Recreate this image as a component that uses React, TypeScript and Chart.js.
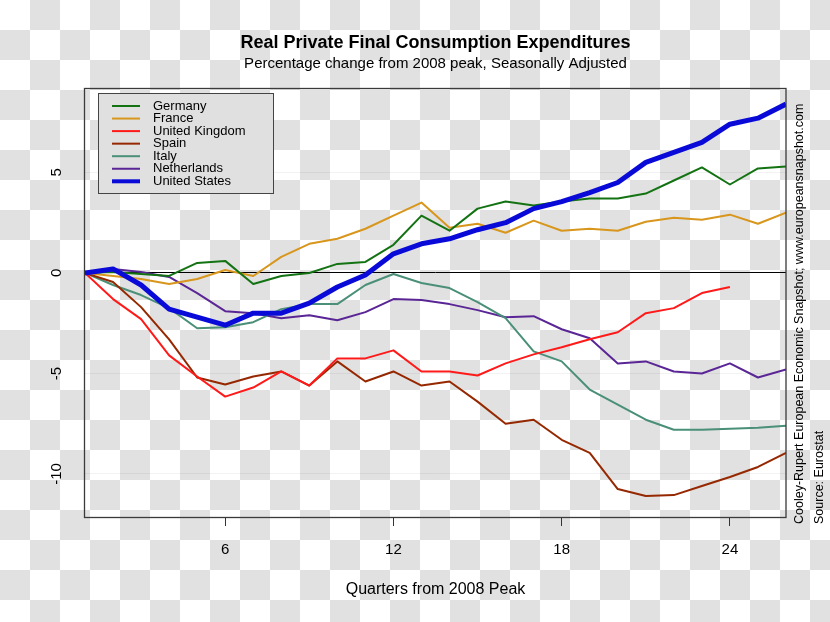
import React, { useEffect, useRef } from "react";
import { Chart, registerables } from "chart.js";

Chart.register(...registerables);

const quarters = [1, 2, 3, 4, 5, 6, 7, 8, 9, 10, 11, 12, 13, 14, 15, 16, 17, 18, 19, 20, 21, 22, 23, 24, 25, 26];
const xTicks = [6, 12, 18, 24];
const yTicks = [-10, -5, 0, 5];
const yTickLabels = ["-10", "-5", "0", "5"];

const germany = [0, 0.05, -0.05, -0.15, 0.5, 0.6, -0.55, -0.15, 0.0, 0.45, 0.55, 1.4, 2.85, 2.1, 3.2, 3.55, 3.35, 3.55, 3.7, 3.7, 3.95, 4.6, 5.25, 4.4, 5.2, 5.3];
const france = [0, -0.15, -0.3, -0.55, -0.3, 0.15, -0.15, 0.8, 1.45, 1.7, 2.2, 2.85, 3.5, 2.25, 2.45, 2.0, 2.6, 2.1, 2.2, 2.1, 2.55, 2.75, 2.65, 2.9, 2.45, 3.0];
const uk = [0, -1.3, -2.3, -4.1, -5.15, -6.15, -5.7, -4.9, -5.6, -4.25, -4.25, -3.85, -4.9, -4.9, -5.1, -4.5, -4.05, -3.7, -3.3, -2.95, -2.0, -1.75, -1.0, -0.7, null, null];
const spain = [0, -0.45, -1.7, -3.3, -5.2, -5.55, -5.15, -4.9, -5.6, -4.4, -5.4, -4.9, -5.6, -5.4, -6.4, -7.5, -7.3, -8.3, -8.95, -10.75, -11.1, -11.05, -10.6, -10.15, -9.65, -8.95];
const italy = [0, -0.6, -1.1, -1.75, -2.75, -2.7, -2.45, -1.8, -1.55, -1.55, -0.6, -0.05, -0.5, -0.75, -1.45, -2.25, -3.9, -4.4, -5.8, -6.55, -7.3, -7.8, -7.8, -7.75, -7.7, -7.6];
const netherlands = [0, 0.2, 0.05, -0.2, -1.0, -1.9, -2.0, -2.25, -2.1, -2.35, -1.95, -1.3, -1.35, -1.55, -1.85, -2.2, -2.15, -2.8, -3.25, -4.5, -4.4, -4.9, -5.0, -4.5, -5.2, -4.8];
const unitedStates = [0, 0.2, -0.6, -1.8, -2.2, -2.6, -2.0, -2.0, -1.5, -0.7, -0.1, 0.95, 1.45, 1.7, 2.15, 2.5, 3.2, 3.55, 4.0, 4.5, 5.5, 6.0, 6.5, 7.4, 7.7, 8.4];

const seriesNames = ["Germany", "France", "United Kingdom", "Spain", "Italy", "Netherlands", "United States"];
const seriesValues = [germany, france, uk, spain, italy, netherlands, unitedStates];
const seriesColors = ["#137313", "#d8961c", "#ff1a1a", "#952800", "#4a8f78", "#5a2696", "#0a0ad8"];
const seriesWidths = [2, 2, 2, 2, 2, 2, 5];

const title = "Real Private Final Consumption Expenditures";
const subtitle = "Percentage change from 2008 peak, Seasonally Adjusted";
const xTitle = "Quarters from 2008 Peak";
const credit = "Cooley-Rupert European Economic Snapshot; www.europeansnapshot.com";
const source = "Source: Eurostat";

const FONT = '"Liberation Sans", Arial, Helvetica, sans-serif';

const overlay = {
  id: "overlay",
  afterDraw(chart: any) {
    const ctx = chart.ctx as CanvasRenderingContext2D;
    const { left, right, top, bottom } = chart.chartArea;
    const cx = (left + right) / 2;
    ctx.save();
    // plot box
    ctx.strokeStyle = "#3a3a3a";
    ctx.lineWidth = 1.3;
    ctx.strokeRect(left - 0.5, top + 0.5, right - left + 0.5, bottom - top);

    // y tick labels (rotated)
    const ys = chart.scales.y;
    ctx.fillStyle = "#000";
    ctx.font = `15px ${FONT}`;
    yTicks.forEach((v, i) => {
      const y = ys.getPixelForValue(v);
      ctx.save();
      ctx.translate(57, y);
      ctx.rotate(-Math.PI / 2);
      ctx.textAlign = "center";
      ctx.textBaseline = "middle";
      ctx.fillText(yTickLabels[i], 0, 0);
      ctx.restore();
    });

    // titles
    ctx.textAlign = "center";
    ctx.textBaseline = "middle";
    ctx.font = `bold 18px ${FONT}`;
    ctx.fillText(title, cx, 43);
    ctx.font = `15px ${FONT}`;
    ctx.fillText(subtitle, cx, 64);
    ctx.font = `16px ${FONT}`;
    ctx.fillText(xTitle, cx, 590);

    // right side notes
    ctx.font = `12.5px ${FONT}`;
    ctx.textAlign = "left";
    ctx.save();
    ctx.translate(800, 524);
    ctx.rotate(-Math.PI / 2);
    ctx.fillText(credit, 0, 0);
    ctx.restore();
    ctx.save();
    ctx.translate(820, 524);
    ctx.rotate(-Math.PI / 2);
    ctx.fillText(source, 0, 0);
    ctx.restore();

    // legend
    const lx = 98, ly = 93, lw = 175, lh = 100;
    ctx.fillStyle = "#e0e0e0";
    ctx.fillRect(lx, ly, lw, lh);
    ctx.strokeStyle = "#444";
    ctx.lineWidth = 1;
    ctx.strokeRect(lx + 0.5, ly + 0.5, lw, lh);
    ctx.font = `13px ${FONT}`;
    ctx.textBaseline = "middle";
    ctx.textAlign = "left";
    chart.data.datasets.forEach((ds: any, i: number) => {
      const y = 106 + i * 12.55;
      ctx.strokeStyle = ds.borderColor;
      ctx.lineWidth = Math.min(ds.borderWidth, 4);
      ctx.beginPath();
      ctx.moveTo(112, y);
      ctx.lineTo(140, y);
      ctx.stroke();
      ctx.fillStyle = "#000";
      ctx.fillText(ds.label, 153, y);
    });
    ctx.restore();
  },
};

export default function App() {
  const ref = useRef<HTMLCanvasElement>(null);
  useEffect(() => {
    if (!ref.current) return;
    const datasets = seriesNames.map((name, i) => ({
      label: name,
      data: quarters.map((q, j) => ({ x: q, y: seriesValues[i][j] })),
      borderColor: seriesColors[i],
      backgroundColor: seriesColors[i],
      borderWidth: seriesWidths[i],
      pointRadius: 0,
      tension: 0,
      fill: false,
      order: name === "United States" ? 0 : 1,
      borderJoinStyle: "round" as const,
    }));
    const chart = new Chart(ref.current, {
      type: "line",
      data: { datasets },
      options: {
        responsive: false,
        animation: false,
        devicePixelRatio: 1,
        layout: { padding: { left: 0, right: 44, top: 88, bottom: 0 } },
        plugins: {
          legend: { display: false },
          title: { display: false },
          tooltip: { enabled: false },
        },
        scales: {
          x: {
            type: "linear",
            min: 1,
            max: 26,
            afterBuildTicks: (s: any) => {
              s.ticks = xTicks.map((v) => ({ value: v }));
            },
            afterFit: (s: any) => {
              s.height = 105;
            },
            ticks: {
              color: "#000",
              font: { family: FONT, size: 15 },
              padding: 15,
              maxRotation: 0,
              callback: (v: any) => String(v),
            },
            grid: {
              drawOnChartArea: false,
              drawTicks: true,
              tickLength: 9,
              color: "#333",
              lineWidth: 1,
            },
            border: { display: false },
          },
          y: {
            type: "linear",
            min: -12.14,
            max: 9.2,
            afterBuildTicks: (s: any) => {
              s.ticks = yTicks.map((v) => ({ value: v }));
            },
            afterFit: (s: any) => {
              s.width = 85;
            },
            ticks: { display: false },
            grid: {
              drawTicks: false,
              color: (c: any) => (c.tick && c.tick.value === 0 ? "#000" : "rgba(0,0,0,0.05)"),
              lineWidth: 1,
            },
            border: { display: false },
          },
        },
      },
      plugins: [overlay],
    });
    return () => chart.destroy();
  }, []);
  return (
    <div
      style={{
        position: "absolute",
        left: 0,
        top: 0,
        width: 830,
        height: 622,
        backgroundColor: "#ffffff",
        backgroundImage:
          "conic-gradient(#e1e1e1 0 25%, transparent 0 50%, #e1e1e1 0 75%, transparent 0 100%)",
        backgroundSize: "60px 60px",
      }}
    >
      <canvas ref={ref} width={830} height={622} style={{ display: "block" }} />
    </div>
  );
}
